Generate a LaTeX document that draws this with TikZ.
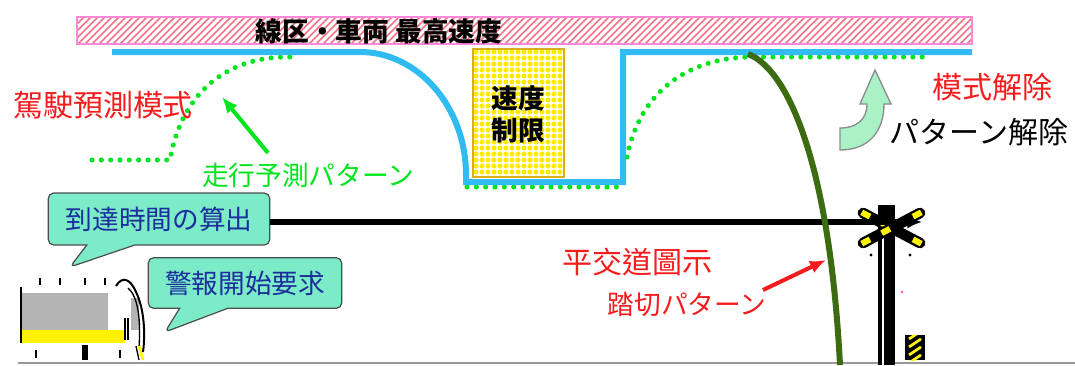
\documentclass[tikz,border=0pt]{standalone}
\usepackage{fontspec}
\newfontfamily\jpfont{Noto Sans CJK JP}
\newfontfamily\tcfont{Noto Sans CJK TC}
\usetikzlibrary{arrows.meta,shapes.callouts}
\definecolor{limitblue}{HTML}{30BCF0}
\definecolor{predgreen}{HTML}{00E61E}
\definecolor{patgreen}{HTML}{3C6B12}
\definecolor{hatchred}{HTML}{F27588}
\definecolor{hatchpink}{HTML}{FF88D8}
\definecolor{calloutfill}{HTML}{7CECC8}
\definecolor{calloutblue}{HTML}{1C2D9C}
\definecolor{notered}{HTML}{F41C1C}
\definecolor{dotyellow}{HTML}{FFEA00}
\definecolor{boxgold}{HTML}{D9AE18}
\definecolor{trainyellow}{HTML}{FFF200}
\definecolor{traingray}{HTML}{B4B4B4}
\definecolor{releasefill}{HTML}{A9F2C6}

\begin{document}
\begin{tikzpicture}[x=0.75pt, y=-0.75pt, >=Latex]
  \tikzstyle{callout}=[rectangle callout, draw=black!70, line width=0.9pt, fill=calloutfill, rounded corners=4pt, text=calloutblue, font=\jpfont\fontsize{20}{22}\selectfont, callout pointer width=36pt]
  \tikzstyle{redlabel}=[text=notered, font=\tcfont\fontsize{22.5}{24}\selectfont]
  \tikzstyle{predline}=[predgreen, line width=3.8pt, line cap=round, dash pattern=on 0pt off 7pt]
  \tikzstyle{xarm}=[line width=8pt, line cap=round]
  \tikzstyle{xlamp}=[fill=yellow, inner sep=0pt, minimum width=7pt, minimum height=4.5pt, sloped]

  \useasboundingbox (0,0) rectangle (1075,365);
  \fill[white] (0,0) rectangle (1075,365);

  % ground
  \draw[black!40, line width=1.5pt] (18,363) -- (1075,363);

  % line/vehicle max speed band
  \begin{scope}
    \clip (77,17) rectangle (972,44);
    \foreach \x in {50,57,...,980}
      \draw[hatchred, line width=1.3pt] (\x,44) -- ++(27,-27);
  \end{scope}
  \draw[hatchpink, line width=1.5pt] (77,17) rectangle (972,44);
  \node[font=\jpfont\bfseries\fontsize{20}{22}\selectfont] (vmax) at (379,31) {線区・車両 最高速度};

  % speed restriction box
  \fill[white] (473,49) rectangle (564,177);
  \begin{scope}
    \clip (473,49) rectangle (564,177);
    \foreach \x in {476,482,...,566}
      \foreach \y in {52,58,...,178}
        \fill[dotyellow] (\x,\y) circle (1.9pt);
  \end{scope}
  \draw[boxgold, line width=1pt] (473,49) rectangle (564,177);
  \node[align=center, font=\jpfont\bfseries\fontsize{20}{24}\selectfont] (limit) at (518,114) {速度\\制限};

  % predicted running pattern (dotted)
  \draw[predline] (92,160) -- (170,160) .. controls (182,90) and (230,56) .. (290,57);
  \draw[predline] (467,187) -- (620,187);
  \draw[predline] (627,157) .. controls (640,90) and (690,58) .. (750,57) -- (930,57);

  % speed limit line
  \draw[limitblue, line width=4.5pt] (112,52) -- (360,52) .. controls (418,52) and (466,107) .. (466,175)
    -- (466,182) -- (623,182) -- (623,52) -- (972,52);

  % labels on the left
  \node[redlabel] (drvpred) at (103,105) {駕駛預測模式};
  \node[text=predgreen, font=\jpfont\fontsize{20}{22}\selectfont] (predlbl) at (308,175) {走行予測パターン};
  \coordinate (predtip) at (222,97);
  \draw[-{Latex[length=12pt,width=10pt]}, predgreen, line width=3pt] (268,153) -- (predtip);

  % callouts from the train
  \node[callout, minimum width=166pt, minimum height=39pt, callout absolute pointer={(70,267)}] (arrive) at (159,219) {到達時間の算出};
  \node[callout, minimum width=145pt, minimum height=38pt, callout absolute pointer={(165,332)}] (alarm) at (245,283) {警報開始要求};

  % train
  \fill[traingray] (22,293) rectangle (108,330);
  \fill[traingray] (131,298) rectangle (139,330);
  \fill[trainyellow] (22,330) rectangle (125,343);
  \draw[line width=1.5pt] (21,287) -- (21,343);
  \foreach \x in {40,60,85,105}
    \draw[line width=1.5pt] (\x,278) -- (\x,285);
  \draw[line width=1.5pt] (116,286) .. controls (122,276) and (130,278) .. (136,292)
    .. controls (143,306) and (146,330) .. (143,352);
  \draw[line width=1pt] (128,288) .. controls (138,296) and (141,320) .. (139,348);
  \draw[line width=1.2pt] (125,318) -- (125,340) (128,318) -- (128,340);
  \fill (82,345) rectangle (88,360);
  \draw[line width=1pt] (36,350) -- (36,358) (120,350) -- (120,358);
  \draw[trainyellow, line width=2pt] (139,346) -- (143,360);
  \draw[line width=1pt] (136,346) -- (139,360);

  % crossing post
  \fill (878,205) rectangle (895,365);
  \draw[white, line width=0.8pt] (883,232) -- (883,365);
  \draw[xarm] (863,213) -- (920,243) node[xlamp, pos=0.05] {} node[xlamp, pos=0.4] {} node[xlamp, pos=0.95] {};
  \draw[xarm] (920,213) -- (863,243) node[xlamp, pos=0.05] {} node[xlamp, pos=0.6] {} node[xlamp, pos=0.95] {};
  \fill (871,255) circle (1.3pt) (910,255) circle (1.3pt);
  \fill[magenta!70] (902,292) circle (1pt);
  \fill (905,335) rectangle (925,360);
  \begin{scope}
    \clip (905,335) rectangle (925,360);
    \foreach \y in {335,343,...,367}
      \draw[yellow, line width=2pt] (909,\y+4) -- (921,\y-4);
  \end{scope}

  % travel direction
  \coordinate (runend) at (922,222);
  \draw[-{Latex[length=11pt,width=10pt]}, line width=3.8pt] (arrive.east |- runend) -- (runend);

  % crossing pattern curve
  \draw[patgreen, line width=4.5pt] (748,54) .. controls (790,70) and (830,170) .. (840,365);
  \node[redlabel] (xingicon) at (637,262) {平交道圖示};
  \node[text=notered, font=\jpfont\fontsize{20}{22}\selectfont] (xinglbl) at (687,304) {踏切パターン};
  \coordinate (xingtip) at (826,260);
  \draw[-{Latex[length=12pt,width=10pt]}, notered, line width=3pt] (763,290) -- (xingtip);

  % pattern release
  \filldraw[fill=releasefill, draw=black!45, line width=1pt] (840,128) -- (840,150)
    .. controls (870,150) and (884,130) .. (884,104) -- (891,104) -- (875,70) -- (860,104) -- (867,104)
    .. controls (867,120) and (856,128) .. (840,128) -- cycle;
  \node[redlabel] (relmode) at (992,87) {模式解除};
  \node[font=\jpfont\fontsize{22.5}{24}\selectfont] (rellbl) at (979,132) {パターン解除};
\end{tikzpicture}
\end{document}
